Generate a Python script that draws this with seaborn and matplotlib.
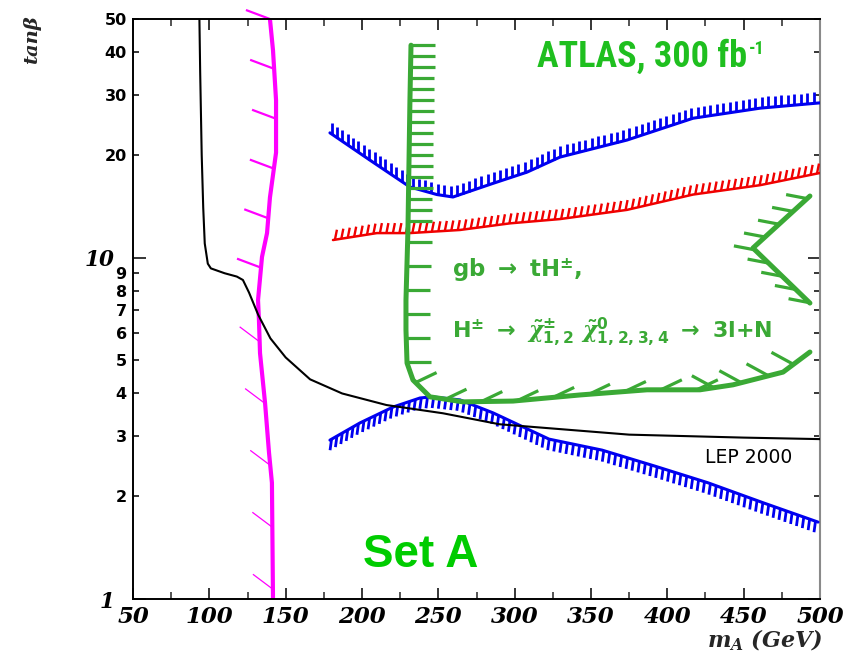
import numpy as np
import pandas as pd
import matplotlib
matplotlib.use("Agg")
import matplotlib.pyplot as plt
import seaborn as sns
from matplotlib.collections import LineCollection
from matplotlib import font_manager

# ---- data: m_A (GeV) vs tan(beta) boundaries ----
# LEP 2000 excluded region boundary
lep_ma = [93.5, 94, 95, 96, 97, 99, 101, 110, 118, 122, 126, 132, 140, 150, 166, 187, 216, 253, 290, 375, 450, 500]
lep_tb = [50, 35, 20, 14, 11, 9.6, 9.3, 9.0, 8.8, 8.6, 7.9, 6.8, 5.8, 5.1, 4.4, 4.0, 3.7, 3.5, 3.25, 3.03, 2.97, 2.94]

# magenta contour
mag_ma = [139.7, 141.7, 143.7, 143.7, 139.7, 137.8, 134.5, 131.9, 132.5, 133.2, 136.5, 139.1, 141.0, 141.7]
mag_tb = [50, 40.5, 28.9, 20.3, 15.0, 11.8, 10.05, 7.51, 6.56, 5.25, 3.75, 2.68, 2.19, 1.0]

# upper blue contour
ub_ma = [179, 205.2, 231.4, 249.1, 259.6, 285.8, 308.1, 329.7, 373.6, 416.8, 460.7, 500]
ub_tb = [23.2, 19.3, 16.1, 15.3, 15.05, 16.5, 17.8, 19.7, 22.1, 25.6, 27.4, 28.4]

# red contour
red_ma = [181, 209.8, 231.4, 264.2, 296.9, 329.7, 373.6, 416.8, 460.7, 500]
red_tb = [11.26, 11.8, 11.8, 12.05, 12.6, 12.97, 13.8, 15.3, 16.3, 17.7]

# lower blue contour
lb_ma = [179, 198.7, 220.3, 238, 245.8, 264.2, 285.8, 322.5, 357.2, 391.9, 426.6, 463.3, 498.7]
lb_tb = [2.92, 3.28, 3.65, 3.88, 3.91, 3.83, 3.51, 2.94, 2.73, 2.45, 2.19, 1.91, 1.68]

# green 5-sigma contour for gb -> tH+-, H+- -> chargino neutralino -> 3l+N
grn_ma = [232.1, 231.4, 230.8, 230.1, 228.8, 228.8, 229.5, 233.4, 244.5, 266.2, 298.9, 342.8, 386.7, 421.4, 443.0, 475.8, 493.4]
grn_tb = [41.9, 28.9, 19.3, 12.05, 7.51, 6.14, 4.91, 4.38, 3.91, 3.78, 3.80, 3.96, 4.10, 4.10, 4.24, 4.62, 5.29]
grn2_ma = [493.4, 456.1, 493.4]
grn2_tb = [15.15, 10.67, 7.36]

x_ticks = [50, 100, 150, 200, 250, 300, 350, 400, 450, 500]
x_minor = [75, 125, 175, 225, 275, 325, 375, 425, 475]
y_major = [1, 10]
y_minor = [2, 3, 4, 5, 6, 7, 8, 9, 20, 30, 40, 50]

BLUE = "#0000f0"
RED = "#f00000"
MAGENTA = "#ff00ff"
GREEN = "#3aa935"

sns.set_theme(style="white")
plt.rcParams["mathtext.fontset"] = "custom"
plt.rcParams["mathtext.rm"] = "DejaVu Sans:bold"
plt.rcParams["mathtext.bf"] = "DejaVu Sans:bold"
plt.rcParams["mathtext.sf"] = "DejaVu Sans:bold"
plt.rcParams["mathtext.it"] = "DejaVu Serif:italic:bold"

installed = {f.name for f in font_manager.fontManager.ttflist}
narrow = next((n for n in ["Liberation Sans Narrow", "Roboto Condensed", "Open Sans Condensed", "Liberation Sans"]
               if n in installed), "DejaVu Sans")

W, H = 857, 651
fig = plt.figure(figsize=(W / 100, H / 100), dpi=100)
ax = fig.add_axes([133 / W, 1 - 599 / H, (820 - 133) / W, (599 - 19) / H])
ax.set_yscale("log")


def curve(xs, ys, color, lw, z):
    df = pd.DataFrame({"mA": xs, "tb": ys})
    sns.lineplot(data=df, x="mA", y="tb", sort=False, estimator=None, color=color,
                 linewidth=lw, ax=ax, zorder=z, solid_capstyle="round", solid_joinstyle="round")


curve(mag_ma, mag_tb, MAGENTA, 3.0, 2)
curve(red_ma, red_tb, RED, 1.8, 3)
curve(ub_ma, ub_tb, BLUE, 2.2, 3)
curve(lb_ma, lb_tb, BLUE, 2.2, 3)
curve(grn_ma, grn_tb, GREEN, 3.6, 4)
curve(grn2_ma, grn2_tb, GREEN, 3.6, 4)
curve(lep_ma, lep_tb, "black", 1.5, 5)

ax.set_xlim(50, 500)
ax.set_ylim(1, 50)
ax.set_xlabel("")
ax.set_ylabel("")


def hatch(xs, ys, spacing, vec, start=0.5, color="k", lw=1.0, z=3, clip=True):
    """Short ticks along a boundary; spacing and tick vector in display pixels."""
    pts = ax.transData.transform(np.column_stack([xs, ys]))
    seg = np.hypot(*np.diff(pts, axis=0).T)
    s = np.concatenate([[0.0], np.cumsum(seg)])
    at = np.arange(start * spacing, s[-1] + 1e-6, spacing)
    base = np.column_stack([np.interp(at, s, pts[:, 0]), np.interp(at, s, pts[:, 1])])
    tip = base + np.asarray(vec, dtype=float)
    inv = ax.transData.inverted()
    segs = np.stack([inv.transform(base), inv.transform(tip)], axis=1)
    lc = LineCollection(segs, colors=color, linewidths=lw, zorder=z, capstyle="butt")
    lc.set_clip_on(clip)
    ax.add_collection(lc, autolim=False)


# magenta: sparse ticks to the upper left
hatch(mag_ma[:8], mag_tb[:8], 50, (-24, 9), start=0.0, color=MAGENTA, lw=1.6, z=2, clip=False)
hatch(mag_ma[8:], mag_tb[8:], 62, (-20, 15), start=0.35, color=MAGENTA, lw=0.9, z=2)
# red and blue dense combs
hatch(red_ma, red_tb, 6.5, (2, 10), start=0.3, color=RED, lw=1.7, z=3)
hatch(ub_ma, ub_tb, 6.5, (0, 11), start=0.3, color=BLUE, lw=2.0, z=3)
hatch(lb_ma, lb_tb, 6.2, (-1.5, -11), start=0.3, color=BLUE, lw=2.0, z=3)
# green contour ticks pointing into the region
hatch(grn_ma[:4], grn_tb[:4], 11, (24, 0), start=0.0, color=GREEN, lw=2.3, z=4)
hatch(grn_ma[3:7], grn_tb[3:7], 24, (24, 0), start=0.5, color=GREEN, lw=2.3, z=4)
hatch(grn_ma[6:14], grn_tb[6:14], 36, (21, 10), start=0.6, color=GREEN, lw=2.3, z=4)
hatch(grn_ma[13:], grn_tb[13:], 28, (-22, 12), start=0.5, color=GREEN, lw=2.3, z=4)
hatch(grn2_ma, grn2_tb, 19, (-21, 4), start=0.2, color=GREEN, lw=2.3, z=4)

# ---- axes styling ----
serif_bi = dict(fontfamily="DejaVu Serif", fontweight="bold", fontstyle="italic")
ax.set_xticks(x_ticks, labels=[str(v) for v in x_ticks], fontsize=16.5, **serif_bi)
ax.set_xticks(x_minor, minor=True)
ax.set_yticks(y_major, labels=[str(v) for v in y_major], fontsize=15.5, **serif_bi)
ax.set_yticks(y_minor, labels=[str(v) for v in y_minor], minor=True,
              fontsize=11.5, fontfamily="DejaVu Sans", fontweight="bold")

ax.tick_params(axis="x", which="major", direction="in", length=8, width=1.1, top=True,
               bottom=True, pad=5, colors="black")
ax.tick_params(axis="x", which="minor", direction="in", length=5, width=1.1, top=True, bottom=True)
ax.tick_params(axis="y", which="major", direction="in", length=9, width=1.1, left=True, right=True,
               pad=13, colors="black")
ax.tick_params(axis="y", which="minor", direction="in", length=4.5, width=1.1, left=True, right=True,
               pad=4.5, colors="black")

for side in ["left", "bottom", "top"]:
    ax.spines[side].set_color("black")
    ax.spines[side].set_linewidth(1.4)
ax.spines["right"].set_color("#8a8a8a")
ax.spines["right"].set_linewidth(1.5)
ax.grid(False)

# ---- axis titles ----
fig.text(32 / W, 1 - 40 / H, "tanβ", rotation=90, ha="center", va="center",
         fontsize=14, **serif_bi)
fig.text(823 / W, 1 - 640 / H, r"$m_A$ (GeV)", ha="right", va="center", fontsize=16, **serif_bi)

# ---- annotations ----
atlas = ax.text(314.6, 36.2, "ATLAS, 300 fb", color="#1fbf1f", fontsize=26,
                fontfamily=narrow, fontweight="bold", va="baseline", ha="left", zorder=6)
ax.annotate("-1", xy=(1.0, 1.0), xycoords=atlas, xytext=(1, -1), textcoords="offset points",
            color="#1fbf1f", fontsize=13, fontfamily=narrow, fontweight="bold",
            ha="left", va="top", zorder=6)
ax.text(200.6, 1.24, "Set A", color="#00cc00", fontsize=33, fontfamily="Liberation Sans",
        fontweight="bold", va="baseline", ha="left", zorder=6)
ax.text(258.9, 8.78, r"gb $\rightarrow$ tH$^{\pm}$,", color=GREEN, fontsize=16.5,
        fontfamily="DejaVu Sans", fontweight="bold", va="baseline", ha="left", zorder=6)
ax.text(258.9, 5.81,
        r"H$^{\pm}$ $\rightarrow$ $\tilde{\chi}^{\pm}_{1,2}$ $\tilde{\chi}^{0}_{1,2,3,4}$ $\rightarrow$ 3l+N",
        color=GREEN, fontsize=16, fontfamily="DejaVu Sans", fontweight="bold",
        va="baseline", ha="left", zorder=6)
ax.text(424.6, 2.5, "LEP 2000", color="black", fontsize=13.5, fontfamily="DejaVu Sans",
        va="baseline", ha="left", zorder=6)

fig.savefig("out.png", dpi=100, facecolor="white")
